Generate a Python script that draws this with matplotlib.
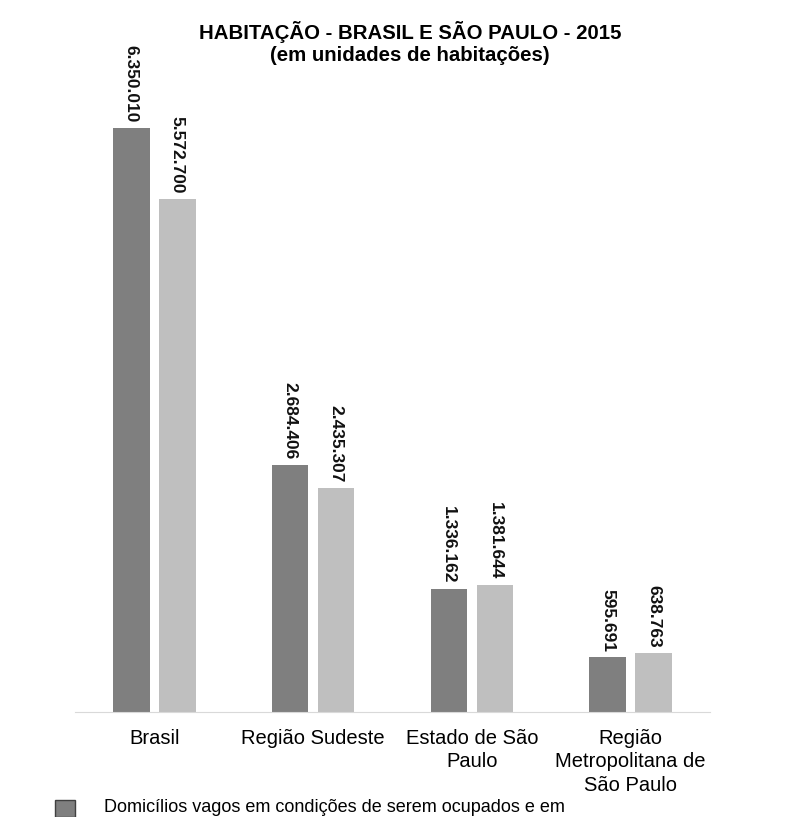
import matplotlib.pyplot as plt
import numpy as np
from matplotlib.patches import Rectangle

plt.rcParams['font.family'] = ['Liberation Sans', 'DejaVu Sans']

categorias = ['Brasil', 'Região Sudeste', 'Estado de São\nPaulo',
              'Região\nMetropolitana de\nSão Paulo']
vagos = [6350010, 2684406, 1336162, 595691]
deficit = [5572700, 2435307, 1381644, 638763]
rotulos_vagos = ['6.350.010', '2.684.406', '1.336.162', '595.691']
rotulos_deficit = ['5.572.700', '2.435.307', '1.381.644', '638.763']

cor_escura = '#7f7f7f'
cor_clara = '#bfbfbf'

W, H = 795, 817
fig = plt.figure(figsize=(W / 100, H / 100), dpi=100)
# axes: x 75..710 px, y baseline 712, top 40
ax = fig.add_axes([75 / W, (H - 712) / H, 635 / W, 672 / H])

x = np.arange(len(categorias))
larg = 0.23
desl = 0.145
ax.bar(x - desl, vagos, larg, color=cor_escura)
ax.bar(x + desl, deficit, larg, color=cor_clara)

ax.set_xlim(-0.5, 3.5)
ax.set_ylim(0, 672 / 92 * 1e6)

for xi, v, r in zip(x, vagos, rotulos_vagos):
    ax.text(xi - desl, v + 60000, r, rotation=270, ha='center', va='bottom',
            fontsize=12.5, fontweight='bold', color='#111111')
for xi, v, r in zip(x, deficit, rotulos_deficit):
    ax.text(xi + desl, v + 60000, r, rotation=270, ha='center', va='bottom',
            fontsize=12.5, fontweight='bold', color='#111111')

for s in ['top', 'right', 'left']:
    ax.spines[s].set_visible(False)
ax.spines['bottom'].set_color('#d9d9d9')
ax.set_yticks([])
ax.set_xticks(x)
ax.set_xticklabels(categorias, fontsize=14.5, linespacing=1.3)
ax.tick_params(axis='x', length=0, pad=12)

fig.text(410 / W, 1 - 43 / H, 'HABITAÇÃO - BRASIL E SÃO PAULO - 2015\n(em unidades de habitações)',
         ha='center', va='center', fontsize=14.7, fontweight='bold', linespacing=1.15)

# legenda (cortada na borda inferior)
fig.patches.append(Rectangle((55 / W, 0), 20 / W, 17 / H, transform=fig.transFigure,
                             facecolor=cor_escura, edgecolor='#404040', lw=1))
fig.text(104 / W, 1 - 808 / H,
         'Domicílios vagos em condições de serem ocupados e em',
         ha='left', va='center', fontsize=13)

fig.savefig('out.png', dpi=100, facecolor='white')
